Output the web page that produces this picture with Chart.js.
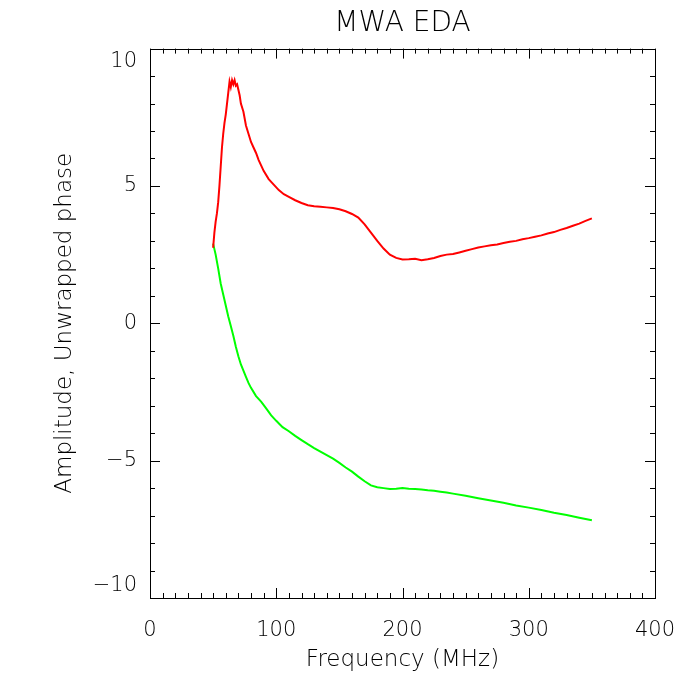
<!DOCTYPE html>
<html>
<head>
<meta charset="utf-8">
<script src="https://cdn.jsdelivr.net/npm/chart.js@4"></script>
<style>
  html, body { margin: 0; padding: 0; background: #fff; }
  #wrap { width: 700px; height: 700px; }
</style>
</head>
<body>
<div id="wrap"><canvas id="chart" width="700" height="700"></canvas></div>
<script>
// amplitude (red), MHz
const freqAmp = [50, 51, 52, 53, 54, 55, 56, 57, 58, 59, 60, 61, 62, 63, 64, 65, 66, 67, 68, 69, 70, 71, 72, 74, 76, 78, 80, 82, 84, 86, 88, 90, 94, 98, 102, 106, 110, 115, 120, 125, 130, 135, 140, 145, 150, 155, 160, 165, 170, 175, 180, 185, 190, 195, 200, 205, 210, 215, 220, 225, 230, 235, 240, 245, 250, 255, 260, 265, 270, 275, 280, 285, 290, 295, 300, 305, 310, 315, 320, 325, 330, 335, 340, 345, 350];
const amplitude = [2.75, 3.3, 3.7, 4.0, 4.4, 5.0, 5.7, 6.4, 6.9, 7.3, 7.6, 8.0, 8.4, 8.8, 8.6, 8.85, 8.7, 8.85, 8.65, 8.7, 8.5, 8.3, 8.0, 7.7, 7.2, 6.9, 6.6, 6.4, 6.2, 5.95, 5.75, 5.55, 5.25, 5.05, 4.85, 4.7, 4.6, 4.48, 4.38, 4.3, 4.26, 4.24, 4.22, 4.2, 4.15, 4.08, 3.98, 3.85, 3.6, 3.3, 3.0, 2.72, 2.5, 2.38, 2.32, 2.33, 2.35, 2.3, 2.33, 2.38, 2.45, 2.5, 2.52, 2.58, 2.64, 2.7, 2.76, 2.8, 2.84, 2.87, 2.92, 2.97, 3.0, 3.06, 3.1, 3.15, 3.2, 3.27, 3.32, 3.4, 3.47, 3.55, 3.63, 3.73, 3.82];

// unwrapped phase (green)
const freqPhase = [50, 52, 54, 56, 58, 60, 62, 64, 66, 68, 70, 72, 74, 76, 78, 80, 84, 88, 92, 96, 100, 105, 110, 115, 120, 125, 130, 135, 140, 145, 150, 155, 160, 165, 170, 175, 180, 185, 190, 195, 200, 205, 210, 215, 220, 225, 230, 235, 240, 250, 260, 270, 280, 290, 300, 310, 320, 330, 340, 350];
const phase = [2.9, 2.5, 2.0, 1.45, 1.05, 0.65, 0.25, -0.1, -0.45, -0.85, -1.2, -1.5, -1.72, -1.95, -2.17, -2.35, -2.65, -2.85, -3.1, -3.35, -3.55, -3.78, -3.93, -4.1, -4.25, -4.4, -4.54, -4.67, -4.8, -4.93, -5.08, -5.25, -5.4, -5.58, -5.75, -5.9, -5.97, -6.0, -6.03, -6.02, -6.0, -6.02, -6.03, -6.05, -6.08, -6.1, -6.13, -6.16, -6.2, -6.28, -6.37, -6.45, -6.53, -6.63, -6.71, -6.8, -6.9, -6.98, -7.08, -7.17];

const xTicks = [0, 100, 200, 300, 400];
const yTicks = [-10, -5, 0, 5, 10];

const FONT = "'DejaVu Sans', sans-serif";

function toPoints(xs, ys) {
    return xs.map((x, i) => ({ x: x, y: ys[i] }));
}

// IDL style frame, ticks pointing inward on all four sides
const idlFrame = {
    id: 'idlFrame',
    afterDraw(chart) {
        const ctx = chart.ctx;
        const a = chart.chartArea;
        const xs = chart.scales.x, ys = chart.scales.y;
        ctx.save();
        ctx.strokeStyle = '#000';
        ctx.lineWidth = 1;
        ctx.strokeRect(Math.round(a.left) + 0.5, Math.round(a.top) + 0.5,
            Math.round(a.right - a.left), Math.round(a.bottom - a.top));
        ctx.beginPath();
        for (let v = 0; v <= 400; v += 10) {
            const px = Math.round(xs.getPixelForValue(v)) + 0.5;
            const len = v % 100 === 0 ? 10 : 5;
            ctx.moveTo(px, a.bottom); ctx.lineTo(px, a.bottom - len);
            ctx.moveTo(px, a.top); ctx.lineTo(px, a.top + len);
        }
        for (let v = -10; v <= 10; v += 1) {
            const py = Math.round(ys.getPixelForValue(v)) + 0.5;
            const len = v % 5 === 0 ? 10 : 5;
            ctx.moveTo(a.left, py); ctx.lineTo(a.left + len, py);
            ctx.moveTo(a.right, py); ctx.lineTo(a.right - len, py);
        }
        ctx.stroke();
        ctx.restore();
    }
};

new Chart(document.getElementById('chart'), {
    type: 'line',
    data: {
        datasets: [
            {
                label: 'Amplitude',
                data: toPoints(freqAmp, amplitude),
                borderColor: '#ff0000',
                borderWidth: 2,
                pointRadius: 0,
                tension: 0,
                fill: false
            },
            {
                label: 'Unwrapped phase',
                data: toPoints(freqPhase, phase),
                borderColor: '#00ff00',
                borderWidth: 2,
                pointRadius: 0,
                tension: 0,
                fill: false
            }
        ]
    },
    options: {
        responsive: false,
        animation: false,
        layout: { padding: { left: 0, right: 45, top: 0, bottom: 0 } },
        plugins: {
            legend: { display: false },
            tooltip: { enabled: false },
            title: {
                display: true,
                text: 'MWA EDA',
                fullSize: false,
                color: '#000',
                font: { family: FONT, size: 28, weight: 200, lineHeight: 1.2 },
                padding: { top: 7, bottom: 8 }
            }
        },
        scales: {
            x: {
                type: 'linear',
                min: 0,
                max: 400,
                afterBuildTicks: (s) => { s.ticks = xTicks.map(v => ({ value: v })); },
                afterFit: (s) => { s.height = 102; },
                grid: { display: false, drawTicks: false },
                border: { display: false },
                ticks: {
                    color: '#000',
                    padding: 20,
                    maxRotation: 0,
                    font: { family: FONT, size: 21, weight: 200 }
                },
                title: {
                    display: true,
                    text: 'Frequency (MHz)',
                    color: '#000',
                    font: { family: FONT, size: 23, weight: 200, lineHeight: 1.2 },
                    padding: { top: 0, bottom: 26 }
                }
            },
            y: {
                type: 'linear',
                min: -10,
                max: 10,
                afterBuildTicks: (s) => { s.ticks = yTicks.map(v => ({ value: v })); },
                afterFit: (s) => { s.width = 150; },
                grid: { display: false, drawTicks: false },
                border: { display: false },
                ticks: {
                    color: '#000',
                    padding: 13,
                    font: { family: FONT, size: 21, weight: 200 },
                    callback: (v) => {
                        const t = v < 0 ? '\u2212' + Math.abs(v) : String(v);
                        if (v === 10) return ['', t];
                        if (v === -10) return [t, ''];
                        return t;
                    }
                },
                title: {
                    display: true,
                    text: 'Amplitude, Unwrapped phase',
                    color: '#000',
                    font: { family: FONT, size: 23, weight: 200, lineHeight: 1.2 },
                    padding: { top: 51, bottom: 0 }
                }
            }
        }
    },
    plugins: [idlFrame]
});
</script>
</body>
</html>
